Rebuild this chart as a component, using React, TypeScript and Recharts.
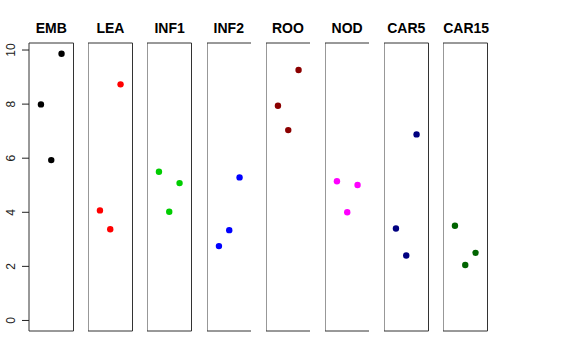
import { ScatterChart, Scatter, XAxis, YAxis, ReferenceArea } from 'recharts'

const panelNames = ['EMB', 'LEA', 'INF1', 'INF2', 'ROO', 'NOD', 'CAR5', 'CAR15'];
const panelColors = ['#000000', '#FF0000', '#00CD00', '#0000FF', '#8B0000', '#FF00FF', '#000080', '#006400'];
const positions = [1, 2, 3];
const embValues = [7.99, 5.93, 9.86];
const leaValues = [4.07, 3.37, 8.73];
const inf1Values = [5.5, 4.02, 5.08];
const inf2Values = [2.75, 3.34, 5.29];
const rooValues = [7.94, 7.04, 9.26];
const nodValues = [5.15, 4.0, 5.01];
const car5Values = [3.4, 2.4, 6.88];
const car15Values = [3.5, 2.05, 2.5];
const yTicks = [0, 2, 4, 6, 8, 10];

const allValues = [embValues, leaValues, inf1Values, inf2Values, rooValues, nodValues, car5Values, car15Values];

const X_DOMAIN: [number, number] = [-0.16, 4.16];
const Y_DOMAIN: [number, number] = [-0.39, 10.26];
const PANEL_W = 44.5;
const PANEL_STEP = 59.17;
const FIRST_LEFT = 29;
const AXIS_W = 29;

function RotatedTick(props: any) {
  const { y, payload } = props;
  return (
    <g>
      <line x1={22} x2={29} y1={y} y2={y} stroke="#222" strokeWidth={1} />
      <text
        transform={`translate(14.5, ${y}) rotate(-90)`}
        textAnchor="middle"
        fontSize={12}
        fill="#222"
        fontFamily="Liberation Sans, Arial, sans-serif"
      >
        {payload.value}
      </text>
    </g>
  );
}

function Panel({ index }: { index: number }) {
  const first = index === 0;
  const left = FIRST_LEFT + index * PANEL_STEP;
  const data = positions.map((p, i) => ({ x: p, y: allValues[index][i] }));
  const chartLeft = first ? 0 : left;
  const chartW = first ? AXIS_W + PANEL_W : PANEL_W;
  return (
    <div style={{ position: 'absolute', left: chartLeft, top: 0 }}>
      <div
        style={{
          position: 'absolute',
          left: first ? AXIS_W : 0,
          width: PANEL_W,
          top: 20,
          textAlign: 'center',
          fontFamily: 'Liberation Sans, Arial, sans-serif',
          fontWeight: 'bold',
          fontSize: 14,
          whiteSpace: 'nowrap',
          lineHeight: '16px',
        }}
      >
        {panelNames[index]}
      </div>
      <ScatterChart width={chartW} height={360} margin={{ top: 43, bottom: 29, left: 0, right: 0 }}>
        <XAxis type="number" dataKey="x" domain={X_DOMAIN} hide />
        <YAxis
          type="number"
          dataKey="y"
          domain={Y_DOMAIN}
          hide={!first}
          width={AXIS_W}
          ticks={yTicks}
          tick={<RotatedTick />}
          tickLine={false}
          axisLine={false}
          allowDataOverflow
        />
        <ReferenceArea
          x1={X_DOMAIN[0]}
          x2={X_DOMAIN[1]}
          y1={Y_DOMAIN[0]}
          y2={Y_DOMAIN[1]}
          fill="none"
          fillOpacity={0}
          stroke="#333"
          strokeWidth={1}
        />
        <Scatter
          data={data}
          fill={panelColors[index]}
          isAnimationActive={false}
          shape={(p: any) => <circle cx={p.cx} cy={p.cy} r={3.2} fill={panelColors[index]} />}
        />
      </ScatterChart>
    </div>
  );
}

export default function App() {
  return (
    <div style={{ position: 'absolute', left: 0, top: 0, width: 576, height: 360, background: '#fff' }}>
      {panelNames.map((_, i) => (
        <Panel key={i} index={i} />
      ))}
    </div>
  );
}
